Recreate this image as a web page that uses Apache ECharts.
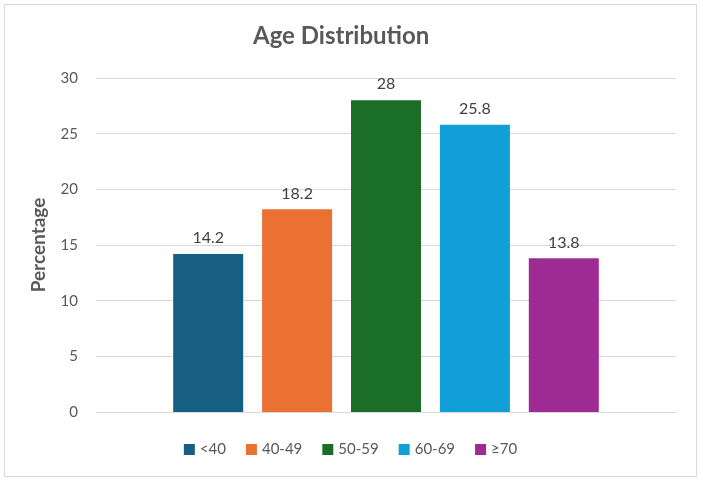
<!DOCTYPE html>
<html>
<head>
<meta charset="utf-8">
<script src="https://cdn.jsdelivr.net/npm/echarts@6/dist/echarts.min.js"></script>
<style>
  html, body { margin: 0; padding: 0; background: #fff; }
  #chart { position: absolute; left: 4px; top: 4px; width: 693px; height: 473px; border: 1px solid #d9d9d9; box-sizing: border-box; }
</style>
</head>
<body>
<div id="chart"></div>
<script>
var groups = ["<40", "40-49", "50-59", "60-69", "\u226570"];
var values = [14.2, 18.2, 28, 25.8, 13.8];
var colors = ["#175E83", "#EB7133", "#1A6E27", "#109FD6", "#9E2A93"];
var yTicks = { min: 0, max: 30, interval: 5 };

var font = "Lato, 'Open Sans', sans-serif";
var series = [];
for (var i = 0; i < groups.length; i++) {
  series.push({
    name: groups[i],
    type: 'bar',
    data: [values[i]],
    barWidth: 70,
    barGap: '27%',
    itemStyle: { color: colors[i] },
    label: {
      show: true,
      position: 'top',
      distance: 8,
      color: '#404040',
      fontSize: 16,
      fontFamily: font
    }
  });
}

var myChart = echarts.init(document.getElementById('chart'));
myChart.setOption({
  animation: false,
  title: {
    text: 'Age Distribution',
    left: 243,
    top: 14,
    textStyle: { color: '#595959', fontSize: 24, fontWeight: 'bold', fontFamily: font }
  },
  legend: {
    bottom: 14,
    left: 'center',
    itemWidth: 11,
    itemHeight: 11,
    itemGap: 20,
    icon: 'rect',
    textStyle: { color: '#595959', fontSize: 15, fontFamily: font },
    data: groups
  },
  grid: { left: 91, right: 20, top: 73, bottom: 64 },
  xAxis: {
    type: 'category',
    data: [''],
    axisTick: { show: false },
    axisLabel: { show: false },
    axisLine: { lineStyle: { color: '#d9d9d9', width: 1 } }
  },
  yAxis: {
    type: 'value',
    min: yTicks.min,
    max: yTicks.max,
    interval: yTicks.interval,
    name: 'Percentage',
    nameLocation: 'middle',
    nameGap: 48,
    nameRotate: 90,
    nameTextStyle: { color: '#595959', fontSize: 19, fontWeight: 'bold', fontFamily: font },
    axisLine: { show: false },
    axisTick: { show: false },
    axisLabel: { color: '#595959', fontSize: 15, margin: 18, fontFamily: font },
    splitLine: { lineStyle: { color: '#d9d9d9', width: 1 } }
  },
  series: series
});
</script>
</body>
</html>
